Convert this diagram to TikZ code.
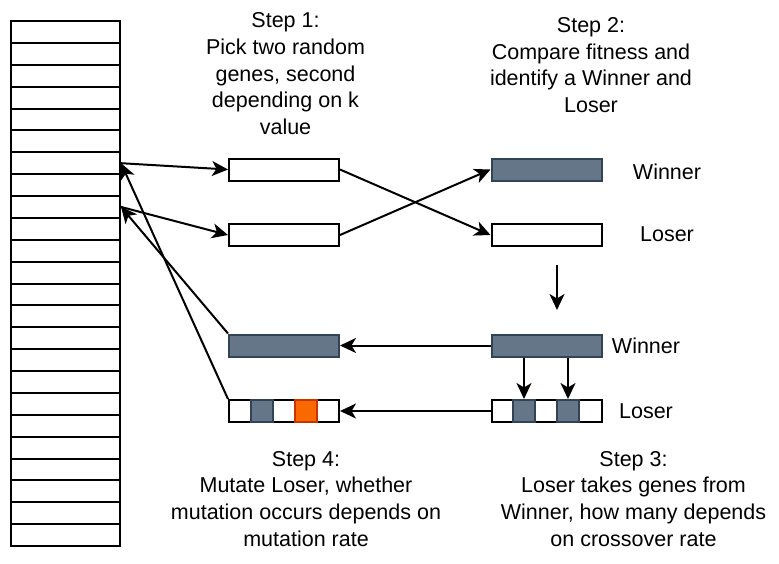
\documentclass[tikz,border=0pt]{standalone}
\usepackage{fontspec}
\setmainfont{Liberation Sans}
\usepackage{tikz}
\usetikzlibrary{arrows.meta}
\definecolor{winfill}{HTML}{647687}
\definecolor{winline}{HTML}{314354}
\definecolor{mutfill}{HTML}{FA6800}
\definecolor{mutline}{HTML}{C73500}
\tikzset{
    gridcell/.style={draw=black, line width=2pt, minimum width=109pt, minimum height=21.875pt, inner sep=0pt},
    gene/.style={draw=black, fill=white, line width=2pt, minimum width=110pt, minimum height=22pt, inner sep=0pt},
    genewin/.style={gene, draw=winline, fill=winfill},
    slot/.style={draw=winline, fill=winfill, line width=2pt, minimum width=22pt, minimum height=22pt, inner sep=0pt},
    slotmut/.style={slot, draw=mutline, fill=mutfill},
    steptext/.style={align=center, font=\fontsize{21.5}{26.6}\selectfont},
    tag/.style={font=\fontsize{21.5}{26.6}\selectfont, inner sep=0pt},
}
\tikzstyle{line} = [draw, line width=2pt, -{Stealth[length=16pt,width=15pt,inset=4.5pt]}]

\begin{document}
\begin{tikzpicture}[x=1pt, y=-1pt]
	\useasboundingbox (0,0) rectangle (779,563);
	\foreach \i in {1,...,24}
		\node[gridcell] (cell\i) at (65.5,{21+21.875*(\i-0.5)}) {};
	\node[steptext] (step1) at (285.5,73.7) {Step 1:\\Pick two random\\genes, second\\depending on k\\value};
	\node[gene] (pick1) at (284,169.5) {};
	\node[gene] (pick2) at (284,235) {};
	\node[steptext] (step2) at (591,65.2) {Step 2:\\Compare fitness and\\identify a Winner and\\Loser};
	\node[genewin] (win2) at (546.5,169.5) {};
	\node[gene] (lose2) at (546.5,235) {};
	\node[tag] (wintag2) at (667,171.5) {Winner};
	\node[tag] (losetag2) at (667,234) {Loser};
	\coordinate (drop-a) at (557,265);
	\coordinate (drop-b) at (557,310);
	\node[genewin] (win3) at (546.5,345.5) {};
	\node[gene] (lose3) at (546.5,411) {};
	\node[slot] (slot3a) at (524,411) {};
	\node[slot] (slot3b) at (568,411) {};
	\node[tag] (wintag3) at (646,346) {Winner};
	\node[tag] (losetag3) at (646,411) {Loser};
	\node[steptext] (step3) at (633.5,498.7) {Step 3:\\Loser takes genes from\\Winner, how many depends\\on crossover rate};
	\node[genewin] (win4) at (284,345.5) {};
	\node[gene] (mut4) at (284,411) {};
	\node[slot] (slot4a) at (262,411) {};
	\node[slotmut] (slot4b) at (306,411) {};
	\node[steptext] (step4) at (306,498.7) {Step 4:\\Mutate Loser, whether\\mutation occurs depends on\\mutation rate};
	\draw[line] (cell7.east) -- (pick1.west);
	\draw[line] (cell9.east) -- (pick2.west);
	\draw[line] (pick1.east) -- (lose2.west);
	\draw[line] (pick2.east) -- (win2.west);
	\draw[line] (drop-a) -- (drop-b);
	\draw[line] (slot3a.north |- win3.south) -- (slot3a.north);
	\draw[line] (slot3b.north |- win3.south) -- (slot3b.north);
	\draw[line] (win3.west) -- (win4.east);
	\draw[line] (lose3.west) -- (mut4.east);
	\draw[line] (win4.north west) -- (cell9.east);
	\draw[line] (mut4.north west) -- (cell7.east);
\end{tikzpicture}
\end{document}
